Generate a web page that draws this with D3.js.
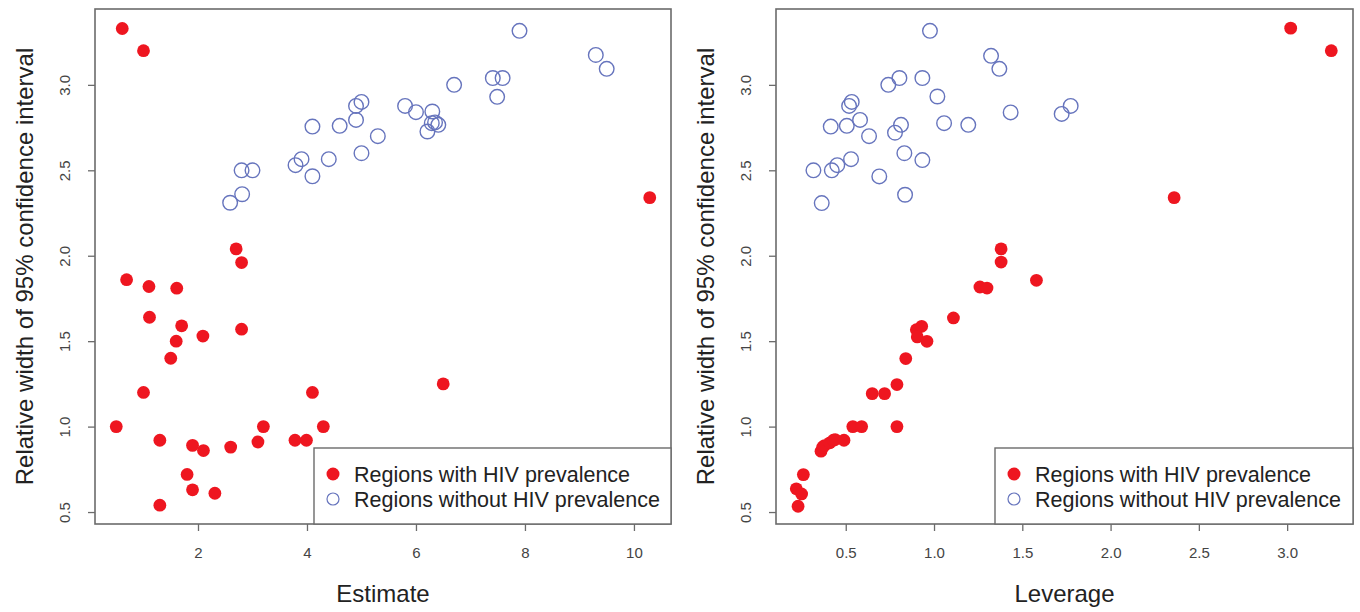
<!DOCTYPE html>
<html>
<head>
<meta charset="utf-8">
<script src="https://cdn.jsdelivr.net/npm/d3@7"></script>
<style>
  body { margin: 0; background: #fff; }
  svg { font-family: "Liberation Sans", Arial, sans-serif; }
</style>
</head>
<body>
<svg id="SVG_CONTAINER" width="1360" height="612"></svg>
<script>
// left panel: estimate vs relative width
const estWithHiv   = [0.61, 1.00, 2.70, 2.80, 0.50, 0.69, 1.10, 1.11, 1.00, 1.30, 1.30, 1.61, 1.70, 1.60, 1.50, 2.09, 1.90, 2.10, 1.80, 1.90, 2.31, 2.80, 2.60, 3.10, 3.20, 3.78, 3.99, 4.10, 4.30, 6.50, 10.29];
const estWithHivW  = [3.33, 3.20, 2.04, 1.96, 1.00, 1.86, 1.82, 1.64, 1.20, 0.92, 0.54, 1.81, 1.59, 1.50, 1.40, 1.53, 0.89, 0.86, 0.72, 0.63, 0.61, 1.57, 0.88, 0.91, 1.00, 0.92, 0.92, 1.20, 1.00, 1.25, 2.34];
const estNoHiv     = [2.59, 2.81, 2.80, 3.00, 3.79, 3.90, 4.10, 4.10, 4.40, 4.60, 4.90, 4.90, 5.00, 5.00, 5.30, 5.80, 6.00, 6.30, 6.29, 6.41, 6.21, 6.35, 6.70, 7.41, 7.59, 7.49, 7.90, 9.30, 9.50];
const estNoHivW    = [2.31, 2.36, 2.50, 2.50, 2.53, 2.565, 2.465, 2.756, 2.565, 2.76, 2.795, 2.877, 2.90, 2.60, 2.70, 2.877, 2.84, 2.844, 2.776, 2.766, 2.727, 2.78, 3.00, 3.04, 3.04, 2.93, 3.316, 3.175, 3.094];

// right panel: leverage vs relative width
const levWithHiv   = [0.23, 0.22, 0.25, 0.26, 0.36, 0.37, 0.38, 0.41, 0.43, 0.44, 0.49, 0.54, 0.59, 0.79, 0.65, 0.72, 0.79, 0.84, 0.90, 0.93, 0.905, 0.96, 1.11, 1.26, 1.30, 1.38, 1.38, 1.58, 2.36, 3.02, 3.25];
const levWithHivW  = [0.534, 0.636, 0.606, 0.719, 0.856, 0.881, 0.889, 0.905, 0.92, 0.924, 0.92, 1.00, 1.00, 1.00, 1.193, 1.193, 1.246, 1.398, 1.567, 1.587, 1.525, 1.499, 1.636, 1.817, 1.811, 2.04, 1.963, 1.856, 2.34, 3.332, 3.20];
const levNoHiv     = [0.317, 0.364, 0.415, 0.421, 0.452, 0.506, 0.519, 0.534, 0.530, 0.581, 0.632, 0.69, 0.741, 0.779, 0.804, 0.813, 0.832, 0.836, 0.934, 0.934, 0.977, 1.019, 1.057, 1.194, 1.323, 1.37, 1.434, 1.723, 1.774];
const levNoHivW    = [2.50, 2.308, 2.756, 2.50, 2.53, 2.76, 2.877, 2.90, 2.565, 2.795, 2.70, 2.464, 3.00, 2.72, 3.04, 2.766, 2.60, 2.357, 3.04, 2.56, 3.316, 2.932, 2.776, 2.766, 3.17, 3.094, 2.839, 2.83, 2.877];

const yTicks     = [0.5, 1.0, 1.5, 2.0, 2.5, 3.0];
const estTicks   = [2, 4, 6, 8, 10];
const levTicks   = [0.5, 1.0, 1.5, 2.0, 2.5, 3.0];
const legendText = ["Regions with HIV prevalence", "Regions without HIV prevalence"];
const yTitle     = "Relative width of 95% confidence interval";

const RED = "#ee1620", BLUE = "#6674bd", FRAME = "#6b6b6b";
const TOP = 9, BOTTOM = 524;

var svg = d3.select("#SVG_CONTAINER");

function panel(opt) {
    var xScale = d3.scaleLinear().domain(opt.xDomain).range([opt.left, opt.right]);
    var yScale = d3.scaleLinear().domain([0.43, 3.444]).range([BOTTOM, TOP]);
    var g = svg.append("g");

    // y axis (R style, labels rotated)
    var yAxis = d3.axisLeft(yScale).tickValues(yTicks).tickFormat(d3.format(".1f")).tickSize(7).tickPadding(0);
    var ya = g.append("g").attr("transform", "translate(" + opt.left + ",0)").call(yAxis);
    ya.select(".domain").remove();
    ya.selectAll("line").attr("stroke", FRAME).attr("stroke-width", 1.3);
    ya.selectAll("text")
        .attr("x", 0).attr("dy", null)
        .attr("transform", "translate(-25,0) rotate(-90)")
        .attr("text-anchor", "middle")
        .attr("font-size", 15).attr("fill", "#444");

    var xAxis = d3.axisBottom(xScale).tickValues(opt.ticks).tickFormat(opt.fmt).tickSize(7).tickPadding(16);
    var xa = g.append("g").attr("transform", "translate(0," + BOTTOM + ")").call(xAxis);
    xa.select(".domain").remove();
    xa.selectAll("line").attr("stroke", FRAME).attr("stroke-width", 1.3);
    xa.selectAll("text").attr("font-size", 15).attr("fill", "#444");

    // plot frame
    g.append("rect")
        .attr("x", opt.left).attr("y", TOP)
        .attr("width", opt.right - opt.left).attr("height", BOTTOM - TOP)
        .attr("fill", "none").attr("stroke", FRAME).attr("stroke-width", 1.6);

    // open circles first, then filled
    g.selectAll(".open").data(d3.range(opt.xNo.length)).enter()
        .append("circle")
        .attr("cx", i => xScale(opt.xNo[i]))
        .attr("cy", i => yScale(opt.yNo[i]))
        .attr("r", 7.3)
        .attr("fill", "none").attr("stroke", BLUE).attr("stroke-width", 1.4);

    g.selectAll(".filled").data(d3.range(opt.xWith.length)).enter()
        .append("circle")
        .attr("cx", i => xScale(opt.xWith[i]))
        .attr("cy", i => yScale(opt.yWith[i]))
        .attr("r", 6.4)
        .attr("fill", RED);

    // axis titles
    var cx = (opt.left + opt.right) / 2;
    g.append("text").attr("x", cx).attr("y", 602)
        .attr("text-anchor", "middle").attr("font-size", 24).attr("fill", "#222")
        .text(opt.xTitle);
    g.append("text")
        .attr("transform", "translate(" + (opt.left - 62) + "," + ((TOP + BOTTOM) / 2) + ") rotate(-90)")
        .attr("text-anchor", "middle").attr("font-size", 24).attr("fill", "#222")
        .text(yTitle);

    // legend
    var lx = opt.legendLeft, ly = 448;
    g.append("rect")
        .attr("x", lx).attr("y", ly)
        .attr("width", opt.right - lx).attr("height", BOTTOM - ly)
        .attr("fill", "#fff").attr("stroke", FRAME).attr("stroke-width", 1.4);
    g.append("circle").attr("cx", lx + 19).attr("cy", ly + 26).attr("r", 6.5).attr("fill", RED);
    g.append("circle").attr("cx", lx + 19).attr("cy", ly + 51).attr("r", 6)
        .attr("fill", "none").attr("stroke", BLUE).attr("stroke-width", 1.2);
    legendText.forEach(function (t, i) {
        g.append("text").attr("x", lx + 40).attr("y", ly + 26 + i * 25)
            .attr("dy", "0.35em").attr("font-size", 21.5).attr("fill", "#222")
            .text(t);
    });
}

panel({
    left: 95, right: 671, xDomain: [0.11, 10.68],
    ticks: estTicks, fmt: d3.format("d"), xTitle: "Estimate",
    xWith: estWithHiv, yWith: estWithHivW, xNo: estNoHiv, yNo: estNoHivW,
    legendLeft: 314
});

panel({
    left: 776, right: 1353, xDomain: [0.105, 3.373],
    ticks: levTicks, fmt: d3.format(".1f"), xTitle: "Leverage",
    xWith: levWithHiv, yWith: levWithHivW, xNo: levNoHiv, yNo: levNoHivW,
    legendLeft: 995
});
</script>
</body>
</html>
